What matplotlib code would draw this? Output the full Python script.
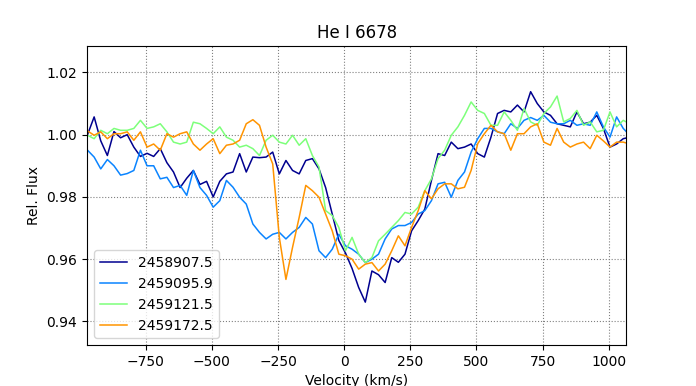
import numpy as np
import matplotlib
matplotlib.use('Agg')
import matplotlib.pyplot as plt

# ---- data (25 km/s steps from -970 km/s) ----
velocity = np.arange(-970, 1081, 25)

flux_2458907 = [
    1.000, 1.0057, 0.998, 0.9933, 1.001, 0.999, 1.000, 0.996, 0.993, 0.994,
    0.993, 0.9955, 0.991, 0.988, 0.983, 0.986, 0.9885, 0.984, 0.985, 0.980,
    0.985, 0.9874, 0.988, 0.9939, 0.988, 0.9928, 0.9926, 0.9928, 0.9944, 0.9874,
    0.9917, 0.9885, 0.9874, 0.9917, 0.9923, 0.989, 0.983, 0.9745, 0.966, 0.962,
    0.957, 0.9509, 0.9462, 0.9562, 0.955, 0.9525, 0.9605, 0.959, 0.9616, 0.9691,
    0.9724, 0.9761, 0.9853, 0.9939, 0.9933, 0.9976, 0.9955, 0.996, 0.997, 0.9939,
    0.9928, 0.9992, 1.0068, 1.0078, 1.0073, 1.0095, 1.0073, 1.0138, 1.010, 1.0073,
    1.0062, 1.0035, 1.003, 1.0025, 1.0073, 1.0035, 1.004, 1.0062, 1.002, 0.996,
    0.997, 0.9987, 0.9992,
]

flux_2459095 = [
    0.995, 0.9928, 0.989, 0.992, 0.990, 0.987, 0.9875, 0.9885, 0.995, 0.990,
    0.990, 0.9858, 0.9863, 0.983, 0.9837, 0.9805, 0.9885, 0.983, 0.9805, 0.9767,
    0.9788, 0.9853, 0.9831, 0.9799, 0.9777, 0.9713, 0.9686, 0.9665, 0.968, 0.9686,
    0.9665, 0.9686, 0.9702, 0.9734, 0.9713, 0.9627, 0.9605, 0.9632, 0.968, 0.9643,
    0.9632, 0.9616, 0.9589, 0.960, 0.9616, 0.9665, 0.9697, 0.9708, 0.9708, 0.9718,
    0.9745, 0.9756, 0.9788, 0.9842, 0.9847, 0.9799, 0.9853, 0.988, 0.9944, 0.9987,
    1.002, 1.002, 1.0009, 1.0003, 1.0035, 1.002, 1.0046, 1.0055, 1.0046, 1.0062,
    1.004, 1.0035, 1.0035, 1.0046, 1.003, 1.0035, 1.003, 1.0073, 1.0025, 0.9992,
    1.0057, 1.002, 0.9998,
]

flux_2459121 = [
    0.9998, 0.9987, 1.0014, 1.0003, 1.002, 1.0014, 1.0014, 1.002, 1.0046, 1.002,
    1.0025, 1.0035, 1.0009, 0.9976, 0.997, 0.9976, 1.004, 1.0035, 1.002, 1.0003,
    1.0025, 0.9992, 0.9982, 0.996, 0.9966, 0.9955, 0.9933, 0.9982, 0.9998, 0.9976,
    0.997, 0.9998, 0.9966, 0.9987, 0.9933, 0.9896, 0.9756, 0.974, 0.9702, 0.9627,
    0.967, 0.9616, 0.9589, 0.9605, 0.9659, 0.968, 0.9702, 0.9724, 0.975, 0.9745,
    0.9767, 0.982, 0.9858, 0.9923, 0.995, 0.9998, 1.0025, 1.0062, 1.0105, 1.0078,
    1.0068, 1.003, 1.003, 1.0073, 1.0046, 1.0014, 1.0084, 1.0041, 1.003, 1.0068,
    1.0089, 1.0124, 1.0041, 1.0052, 1.0078, 1.003, 1.0041, 1.0009, 1.0014, 1.0073,
    1.0025, 1.0046, 1.0035,
]

flux_2459172 = [
    1.0012, 0.9998, 1.0009, 0.9987, 1.0003, 1.0003, 1.0009, 0.9982, 1.0009, 0.996,
    0.997, 0.995, 1.0003, 0.9992, 1.0003, 1.0009, 0.997, 0.995, 0.997, 0.9987,
    0.9939, 0.9966, 0.997, 0.9982, 1.0035, 1.0048, 1.003, 0.996, 0.9906, 0.967,
    0.9535, 0.9638, 0.9734, 0.9837, 0.982, 0.9799, 0.9745, 0.9691, 0.9616, 0.9611,
    0.960, 0.9568, 0.9584, 0.9589, 0.9562, 0.9584, 0.9627, 0.9675, 0.9643, 0.9702,
    0.9756, 0.982, 0.9794, 0.9826, 0.9842, 0.9842, 0.9826, 0.9831, 0.9885, 0.9971,
    1.0003, 1.003, 1.0009, 1.0003, 0.995, 1.0003, 1.0003, 1.0025, 1.0035, 0.9976,
    0.9966, 1.002, 0.9976, 0.996, 0.997, 0.9976, 0.9955, 0.9998, 0.998, 0.996,
    0.9976, 0.9976, 0.997,
]

labels = ['2458907.5', '2459095.9', '2459121.5', '2459172.5']
colors = ['#00008f', '#0a84ff', '#7dff7a', '#ff9400']

# ---- plot ----
fig, ax = plt.subplots(figsize=(6.96, 3.86), dpi=100)
fig.subplots_adjust(left=0.125, right=0.9, bottom=0.106, top=0.881)

for flux, lab, col in zip([flux_2458907, flux_2459095, flux_2459121, flux_2459172], labels, colors):
    ax.plot(velocity, flux, color=col, lw=1.1, label=lab)

ax.set_xlim(-972, 1067)
ax.set_ylim(0.9324, 1.0285)
ax.set_xticks([-750, -500, -250, 0, 250, 500, 750, 1000])
ax.set_yticks([0.94, 0.96, 0.98, 1.00, 1.02])
ax.grid(True, linestyle=':', color='gray')
ax.set_xlabel('Velocity (km/s)')
ax.set_ylabel('Rel. Flux')
ax.set_title('He I 6678')
ax.legend(loc='lower left')

plt.savefig('out.png')
